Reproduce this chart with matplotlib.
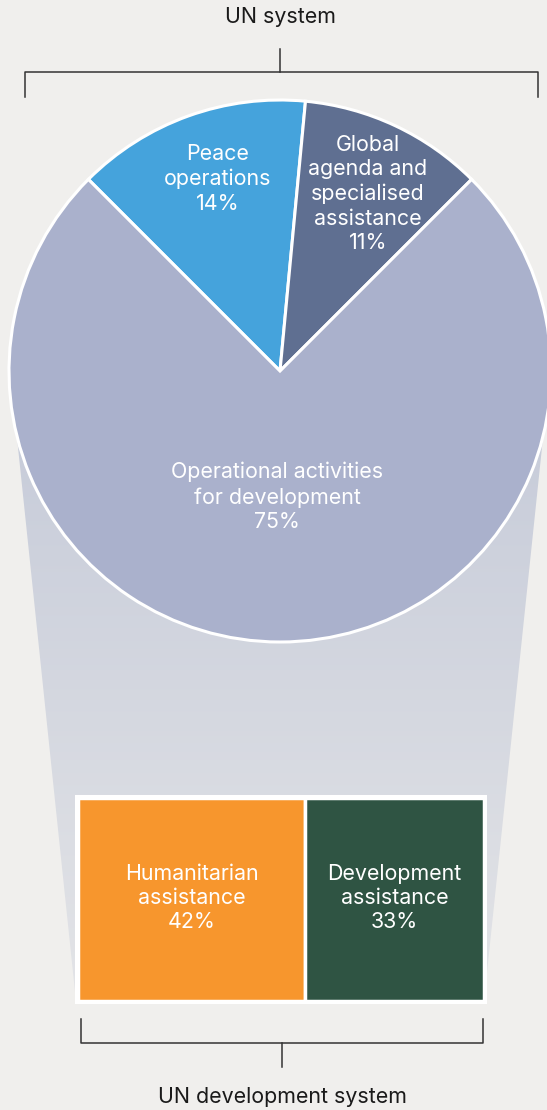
import numpy as np
import matplotlib
matplotlib.use("Agg")
import matplotlib.pyplot as plt
from matplotlib.patches import Polygon
from matplotlib.colors import LinearSegmentedColormap

plt.rcParams['font.family'] = ['Inter', 'DejaVu Sans']

# data
pie_labels = ['Peace\noperations', 'Global\nagenda and\nspecialised\nassistance',
              'Operational activities\nfor development']
pie_values = [14, 11, 75]
pie_colors = ['#45a3dc', '#5f6f91', '#aab1cc']

box_labels = ['Humanitarian\nassistance', 'Development\nassistance']
box_values = [42, 33]
box_colors = ['#f7962d', '#2f5443']

bg = '#f0efed'
W, H = 547, 1110
fs = 15.4

fig = plt.figure(figsize=(W / 100, H / 100), dpi=100, facecolor=bg)
ax = fig.add_axes([0, 0, 1, 1])

def Y(y):
    # pixel row (from top) -> data y
    return H - y

# funnel behind the pie, with a soft vertical gradient
funnel = Polygon([(10, Y(371)), (550, Y(371)), (484, Y(1001)), (76, Y(1001))],
                 closed=True, facecolor='none', edgecolor='none')
ax.add_patch(funnel)
cmap = LinearSegmentedColormap.from_list('fun', ['#c6cbd9', '#e3e4e7'])
grad = np.linspace(0, 1, 256).reshape(-1, 1)
im = ax.imshow(grad, cmap=cmap, extent=(0, W, Y(1001), Y(400)), aspect='auto', zorder=1)
im.set_clip_path(funnel)

# pie
cx, cy, r = 280, Y(371), 271
wedges, _ = ax.pie(pie_values, colors=pie_colors, startangle=135, counterclock=False,
                   center=(cx, cy), radius=r, frame=True,
                   wedgeprops=dict(edgecolor='white', linewidth=2.2, zorder=2))
ax.set_xlim(0, W)
ax.set_ylim(0, H)
ax.set_aspect('equal')
ax.axis('off')

pie_text_pos = [(218, 179), (368, 194), (277, 497)]
for lab, val, (tx, ty) in zip(pie_labels, pie_values, pie_text_pos):
    ax.text(tx, Y(ty), f'{lab}\n{val}%', ha='center', va='center', color='white',
            fontsize=fs, linespacing=1.28, zorder=3)

# boxes for the UN development system
left0, right0 = 78, 484
bot, top = Y(1001), Y(798)
scale = (right0 - left0) / sum(box_values)
ax.add_patch(plt.Rectangle((left0 - 3, bot - 3), right0 - left0 + 6, top - bot + 6,
                           facecolor='white', edgecolor='none', zorder=3))
lefts = left0 + scale * np.concatenate([[0], np.cumsum(box_values)[:-1]])
ax.barh(np.full(len(box_values), (top + bot) / 2), [v * scale for v in box_values],
        left=lefts, height=top - bot, color=box_colors, edgecolor='white',
        linewidth=2.5, zorder=4)
for lab, val, lft in zip(box_labels, box_values, lefts):
    ax.text(lft + val * scale / 2, Y(898), f'{lab}\n{val}%', ha='center', va='center',
            color='white', fontsize=fs, linespacing=1.28, zorder=5)

# brackets
lc = '#333333'
lw = 1.1
ax.plot([25, 25, 538, 538], [Y(97), Y(72), Y(72), Y(97)], color=lc, lw=lw, zorder=5)
ax.plot([280, 280], [Y(72), Y(49)], color=lc, lw=lw, zorder=5)
ax.text(280, Y(17), 'UN system', ha='center', va='center', color='#1a1a1a', fontsize=fs)

ax.plot([81, 81, 483, 483], [Y(1019), Y(1043), Y(1043), Y(1019)], color=lc, lw=lw, zorder=5)
ax.plot([282, 282], [Y(1043), Y(1067)], color=lc, lw=lw, zorder=5)
ax.text(282, Y(1097), 'UN development system', ha='center', va='center',
        color='#1a1a1a', fontsize=fs)

fig.savefig('out.png', dpi=100, facecolor=bg)
